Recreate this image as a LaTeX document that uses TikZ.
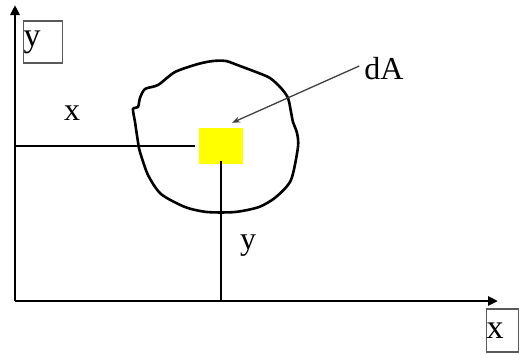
\documentclass[tikz,border=0pt]{standalone}
\usepackage{fontspec}
\setmainfont{Liberation Serif}
\usepackage{xcolor}
\usetikzlibrary{arrows.meta,positioning,calc}
\definecolor{dayellow}{RGB}{255,255,0}
\definecolor{boxgray}{RGB}{90,90,90}

\begin{document}
\begin{tikzpicture}[x=1pt,y=-1pt,
          axis/.style={line width=2.8pt,-{Triangle[length=10pt,width=9pt]}},
          stem/.style={line width=2.8pt},
          lbl/.style={font=\fontsize{32}{32}\selectfont,inner sep=0pt},
          axbox/.style={draw=boxgray,line width=1.3pt,inner sep=0pt,
                        font=\fontsize{34}{34}\selectfont,align=left},
          ptr/.style={draw=black!75,line width=1.3pt,-{Stealth[length=8pt,width=6pt]}}]
        \useasboundingbox (0,0) rectangle (520,354);
        % axes
        \coordinate (O) at (15,301);
        \draw[axis] (O) -- (15,5) coordinate (ytip);
        \draw[axis] (O) -- (498,301) coordinate (xtip);
        \node[axbox,text width=39pt,minimum height=42pt] (ybox) at (43,42) {y};
        \node[axbox,text width=32pt,minimum height=43pt] (xbox) at (502.5,330.5) {x};
        % element of area
        \draw[line width=2.6pt] plot[smooth cycle,tension=0.45] coordinates {
          (213,61) (226,61) (240,66) (256,72) (270,78) (281,88) (288,98)
          (291,112) (293,122) (297,133) (298,147) (291,180) (276,197)
          (259,207) (235,212) (207,212) (185,207) (161,194) (148,175)
          (140,152) (138,142) (135,122) (133,109) (138,107) (140,98)
          (145,89) (158,85) (175,72) (198,64)};
        \node[fill=dayellow,minimum width=44pt,minimum height=36pt,inner sep=0pt] (dA) at (221,146) {};
        \coordinate (xfoot) at (15,146);
        \draw[stem] (xfoot) -- ([xshift=-4pt]dA.west);
        \draw[stem] ([yshift=3pt]dA.south) -- (dA.south |- O);
        % labels
        \node[lbl] (xlab) at (72,113) {x};
        \node[lbl] (ylab) at (248,246) {y};
        \node[lbl] (dAlab) at (384,69) {dA};
        \draw[ptr] ([xshift=-5pt,yshift=3pt]dAlab.west) -- ([shift={(11,-5)}]dA.north);
      \end{tikzpicture}
\end{document}
